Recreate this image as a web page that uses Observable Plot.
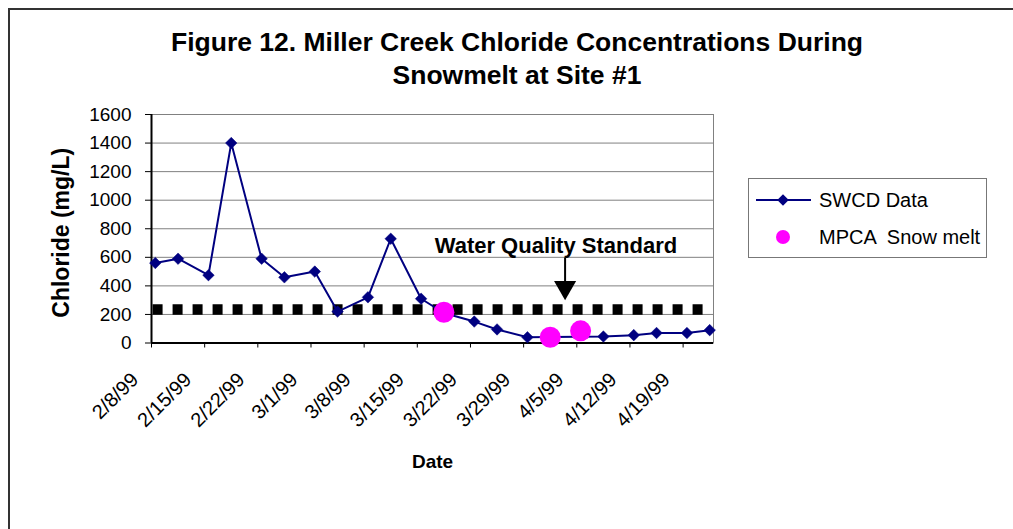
<!DOCTYPE html>
<html>
<head>
<meta charset="utf-8">
<script src="https://cdn.jsdelivr.net/npm/d3@7"></script>
<script src="https://cdn.jsdelivr.net/npm/@observablehq/plot@0.6"></script>
<style>
  html, body { margin: 0; padding: 0; background: #fff; }
  #wrap { position: relative; width: 1013px; height: 529px; overflow: hidden; background: #fff;
          font-family: "Liberation Sans", Arial, sans-serif; }
  #frame { position: absolute; left: 8px; top: 8px; width: 3000px; height: 3000px;
           border-left: 2px solid #333; border-top: 2px solid #333; }
  #title { position: absolute; left: 0; top: 26px; width: 1034px; text-align: center;
           font-weight: bold; font-size: 26.5px; line-height: 33px; color: #000; }
  #chart { position: absolute; left: 0; top: 94px; }
  #legend { position: absolute; left: 748px; top: 178px; width: 237px; height: 78px;
            border: 1px solid #777; background: #fff; }
  #legend svg { position: absolute; left: 0; top: 0; }
</style>
</head>
<body>
<div id="wrap">
  <div id="frame"></div>
  <div id="title">Figure 12. Miller Creek Chloride Concentrations During<br>Snowmelt at Site #1</div>
  <div id="chart"></div>
  <div id="legend"></div>
</div>
<script>
// ---------- data ----------
const xTickDates = ["1999-02-08","1999-02-15","1999-02-22","1999-03-01","1999-03-08","1999-03-15",
                    "1999-03-22","1999-03-29","1999-04-05","1999-04-12","1999-04-19"];
const yTicks = [0, 200, 400, 600, 800, 1000, 1200, 1400, 1600];

const swcdDates = ["1999-02-08","1999-02-11","1999-02-15","1999-02-18","1999-02-22","1999-02-25",
                   "1999-03-01","1999-03-04","1999-03-08","1999-03-11","1999-03-15","1999-03-18",
                   "1999-03-22","1999-03-25","1999-03-29","1999-04-08","1999-04-12","1999-04-15",
                   "1999-04-19","1999-04-22"];
const swcdValues = [560, 590, 475, 1400, 590, 460, 500, 220, 320, 730, 310, 210,
                    150, 95, 40, 45, 55, 70, 70, 90];

const mpcaDates = ["1999-03-18","1999-04-01","1999-04-05"];
const mpcaValues = [215, 40, 85];

const standardValue = 235;
const standardSpan = ["1999-02-08T05:00", "1999-04-21T16:00"];

const annotationText = "Water Quality Standard";
const annotationDate = "1999-04-02T06:00";
const annotationValue = 680;
const arrowDate = "1999-04-03T11:00";
const arrowFrom = 595;
const arrowTo = 300;

const xDomain = ["1999-02-08", "1999-04-23"];
const seriesNames = ["SWCD Data", "MPCA  Snow melt"];

// ---------- build ----------
const parse = s => new Date(s.length > 10 ? s + ":00Z" : s + "T00:00:00Z");
const slot = s => d3.utcHour.offset(parse(s), 12); // Excel date axis: points in the middle of the day
const fmt = d3.utcFormat("%-m/%-d/%y");
const xTicks = xTickDates.map(parse);

const swcd = swcdDates.map((d, i) => ({date: slot(d), value: swcdValues[i]}));
const mpca = mpcaDates.map((d, i) => ({date: slot(d), value: mpcaValues[i]}));

const navy = "#000080";
const magenta = "#ff00ff";
const grid = "#808080";

const chart = Plot.plot({
  width: 1013,
  height: 400,
  marginTop: 20,
  marginBottom: 151.5,
  marginLeft: 151,
  marginRight: 300,
  style: {fontFamily: "'Liberation Sans', Arial, sans-serif", fontSize: "19px", color: "#000", background: "transparent"},
  x: {type: "utc", domain: xDomain.map(parse), ticks: xTicks, tickFormat: () => "", tickSize: 5, label: null},
  y: {domain: [0, 1600], ticks: yTicks, tickFormat: d3.format("d"), tickSize: 6, tickPadding: 14, label: null},
  marks: [
    Plot.frame({stroke: grid}),
    Plot.ruleY(yTicks, {stroke: grid, strokeWidth: 1}),
    Plot.ruleY([0], {stroke: "#000", strokeWidth: 2}),
    Plot.ruleX([parse(xDomain[0])], {stroke: "#000", strokeWidth: 2}),
    Plot.ruleY([standardValue], {x1: () => parse(standardSpan[0]), x2: () => parse(standardSpan[1]),
      stroke: "#000", strokeWidth: 10.5, strokeDasharray: "10,10"}),
    Plot.line(swcd, {x: "date", y: "value", stroke: navy, strokeWidth: 2}),
    Plot.dot(swcd, {x: "date", y: "value", symbol: "diamond2", r: 5.2, fill: navy, stroke: navy, strokeWidth: 0.5}),
    Plot.dot(mpca, {x: "date", y: "value", r: 10.5, fill: magenta}),
    Plot.text([annotationText], {x: () => parse(annotationDate), y: () => annotationValue, text: d => d,
      fontWeight: "bold", fontSize: 22, fill: "#000"}),
    Plot.ruleX([arrowDate], {x: d => parse(d), y1: () => arrowFrom, y2: () => arrowTo + 80, stroke: "#000", strokeWidth: 2}),
    Plot.dot([arrowDate], {x: d => parse(d), y: () => arrowTo, symbol: "triangle", rotate: 180, r: 8.2, dy: -12.7, fill: "#000"}),
    // x tick labels (rotated)
    Plot.text(xTicks, {x: d => d, frameAnchor: "bottom", text: d => fmt(d), rotate: -45, textAnchor: "end",
      dx: -12, dy: 38, fontSize: 20}),
    // axis titles
    Plot.text(["Chloride (mg/L)"], {frameAnchor: "left", textAnchor: "middle", text: d => d, rotate: -90, dx: -90, dy: 4,
      fontWeight: "bold", fontSize: 23}),
    Plot.text(["Date"], {frameAnchor: "bottom", text: d => d, dy: 124.5, fontWeight: "bold", fontSize: 19})
  ]
});
document.getElementById("chart").appendChild(chart);

// legend
const lg = d3.select("#legend").append("svg").attr("width", 237).attr("height", 78)
  .style("font-family", "'Liberation Sans', Arial, sans-serif");
lg.append("line").attr("x1", 7).attr("x2", 62).attr("y1", 21).attr("y2", 21).attr("stroke", navy).attr("stroke-width", 2);
lg.append("path").attr("d", d3.symbol(d3.symbolDiamond2, Math.PI * 5.2 * 5.2)()).attr("transform", "translate(34,21)").attr("fill", navy);
lg.append("text").attr("x", 70).attr("y", 28).attr("font-size", 20).text(seriesNames[0]);
lg.append("circle").attr("cx", 34).attr("cy", 58).attr("r", 7).attr("fill", magenta);
lg.append("text").attr("x", 70).attr("y", 65).attr("font-size", 20).style("white-space", "pre").text(seriesNames[1]);
</script>
</body>
</html>
